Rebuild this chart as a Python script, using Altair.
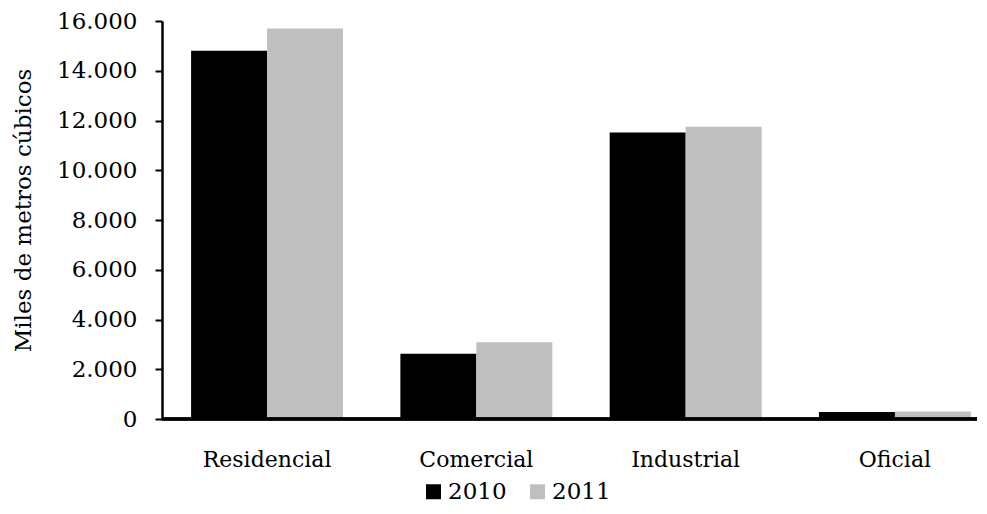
import altair as alt
import pandas as pd

categories = ["Residencial", "Comercial", "Industrial", "Oficial"]
years = ["2010", "2011"]
values_2010 = [14800, 2620, 11520, 280]
values_2011 = [15700, 3090, 11750, 300]

rows = []
for c, a, b in zip(categories, values_2010, values_2011):
    rows.append({"categoria": c, "anio": "2010", "valor": a})
    rows.append({"categoria": c, "anio": "2011", "valor": b})
df = pd.DataFrame(rows)

FONT = "DejaVu Serif"
W = 815
H = 398
PAD_L = 154
PAD_T = 13
PAD_B = 86

bars = alt.Chart(df).mark_bar().encode(
    x=alt.X("categoria:N", sort=categories,
            scale=alt.Scale(paddingInner=0.274, paddingOuter=0.139, range=[0, 838]),
            axis=alt.Axis(title=None, domain=False, ticks=False, tickSize=0, labelAngle=0,
                          labelFontSize=22, labelFont=FONT, labelColor="black",
                          labelPadding=30)),
    xOffset=alt.XOffset("anio:N", sort=years),
    y=alt.Y("valor:Q",
            scale=alt.Scale(domain=[0, 16000], nice=False),
            axis=alt.Axis(title="Miles de metros cúbicos",
                          values=[0, 2000, 4000, 6000, 8000, 10000, 12000, 14000, 16000],
                          labelExpr="replace(format(datum.value, ',d'), ',', '.')",
                          grid=False, domainColor="black", domainWidth=2.5,
                          tickColor="black", tickWidth=2, tickSize=7,
                          labelFontSize=23, labelFont=FONT, labelColor="black",
                          labelPadding=18, titleFontSize=23, titleFont=FONT,
                          titleFontWeight="normal", titleColor="black",
                          titleX=-139, titleY=189, titleAngle=270,
                          titleAlign="center", titleBaseline="middle")),
    color=alt.Color("anio:N", sort=years,
                    scale=alt.Scale(domain=years, range=["#000000", "#bfbfbf"]),
                    legend=alt.Legend(title=None, orient="none", legendX=260, legendY=459,
                                      direction="horizontal", symbolType="square",
                                      symbolSize=225, symbolStrokeWidth=0,
                                      labelFontSize=23, labelFont=FONT, labelColor="black",
                                      labelOffset=3, columnPadding=19, padding=0)),
)

base = alt.Chart(df).mark_rule(color="black", strokeWidth=2.5).encode(
    x=alt.value(0), x2=alt.value(W), y=alt.datum(0)
)

chart = alt.layer(bars, base).properties(
    width=W, height=H,
    autosize=alt.AutoSizeParams(type="none"),
    padding={"left": PAD_L, "top": PAD_T, "right": 0, "bottom": PAD_B},
).configure(font=FONT).configure_view(strokeWidth=0, stroke="transparent")

chart.save("out.html", embed_options={"renderer": "svg", "actions": False})
